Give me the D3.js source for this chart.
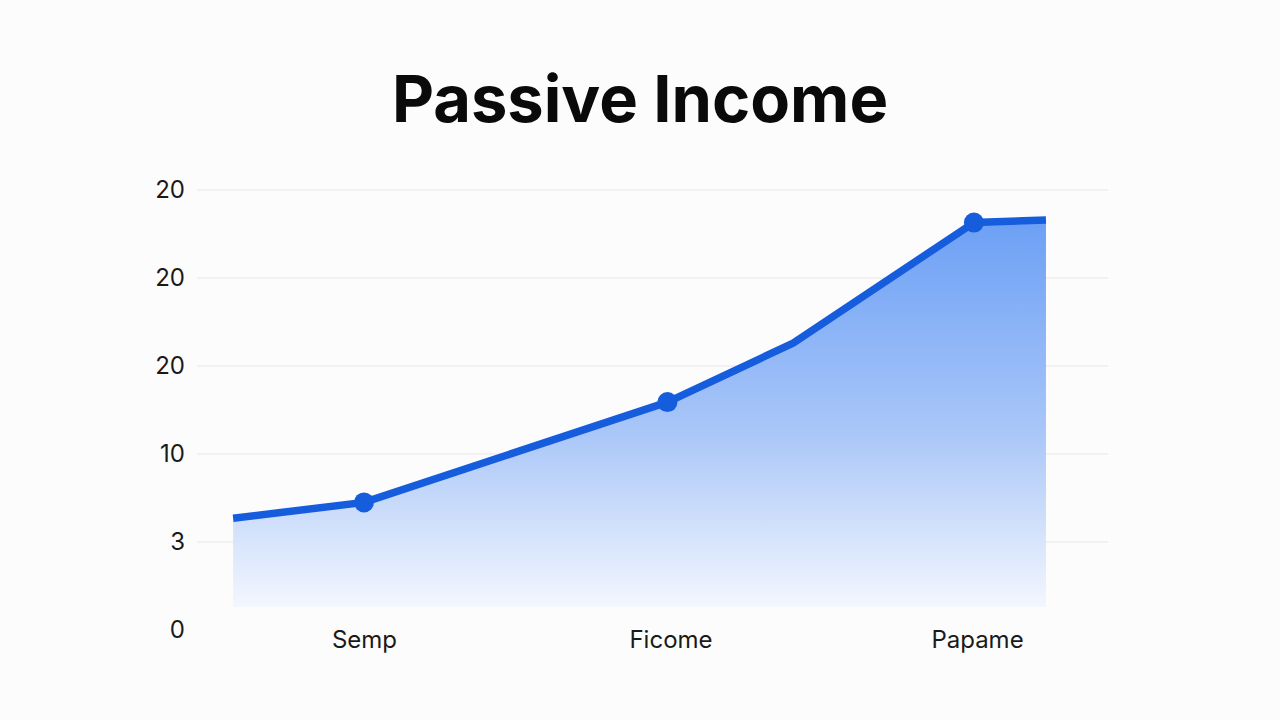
<!DOCTYPE html>
<html>
<head>
<meta charset="utf-8">
<script src="https://cdn.jsdelivr.net/npm/d3@7"></script>
<style>
  html, body { margin: 0; padding: 0; background: #fcfcfc; }
  svg { display: block; }
</style>
</head>
<body>
<svg id="chart" width="1280" height="720"></svg>
<script>
// ---- data ----
const title = "Passive Income";
const categories = ["Semp", "Ficome", "Papame"];
const categoryPos = [1, 2, 3];
const seriesX = [0.573, 1, 1.99, 2.4, 2.99, 3.225];
const seriesY = [12.7, 14.5, 25.9, 32.6, 46.3, 46.6];
const markerIdx = [1, 2, 4];
const yTickValues = [0, 10, 20, 30, 40, 50];
const yTickLabels = ["0", "3", "10", "20", "20", "20"];
const areaBase = 2.6;

// ---- chart ----
const svg = d3.select("#chart");
const W = 1280, H = 720;
svg.append("rect").attr("width", W).attr("height", H).attr("fill", "#fcfcfc");

const x = d3.scaleLinear().domain([1, 3]).range([364, 977]);
const y = d3.scaleLinear().domain([0, 50]).range([630, 190]);

const data = seriesX.map((v, i) => ({ x: v, y: seriesY[i] }));

// gradient
const defs = svg.append("defs");
const grad = defs.append("linearGradient").attr("id", "fillGrad")
  .attr("gradientUnits", "userSpaceOnUse")
  .attr("x1", 0).attr("x2", 0).attr("y1", y(47)).attr("y2", y(areaBase));
grad.append("stop").attr("offset", "0%").attr("stop-color", "#6b9ff5");
grad.append("stop").attr("offset", "55%").attr("stop-color", "#a9c6f8");
grad.append("stop").attr("offset", "100%").attr("stop-color", "#f3f7fe");

// gridlines
svg.append("g").selectAll("line")
  .data(yTickValues.filter(v => v > 0))
  .join("line")
  .attr("x1", 197).attr("x2", 1108)
  .attr("y1", d => y(d)).attr("y2", d => y(d))
  .attr("stroke", "#e6e6e6").attr("stroke-width", 1.2);

// y-axis labels
const yAxis = d3.axisLeft(y).tickValues(yTickValues)
  .tickFormat((d, i) => yTickLabels[i]).tickSize(0).tickPadding(0);
const gy = svg.append("g").attr("transform", "translate(185,0)").call(yAxis);
gy.select(".domain").remove();
gy.selectAll("text")
  .attr("font-family", "Inter, 'Noto Sans', sans-serif")
  .attr("font-size", 24).attr("fill", "#1a1a1a");

// x-axis labels
const xAxis = d3.axisBottom(x).tickValues(categoryPos)
  .tickFormat((d, i) => categories[i]).tickSize(0).tickPadding(0);
const gx = svg.append("g").attr("transform", "translate(0,631)").call(xAxis);
gx.select(".domain").remove();
gx.selectAll("text")
  .attr("font-family", "Inter, 'Noto Sans', sans-serif")
  .attr("font-size", 24).attr("fill", "#1a1a1a");

// area
const area = d3.area().x(d => x(d.x)).y0(y(areaBase)).y1(d => y(d.y));
svg.append("path").datum(data).attr("d", area).attr("fill", "url(#fillGrad)");

// line
const line = d3.line().x(d => x(d.x)).y(d => y(d.y));
svg.append("path").datum(data).attr("d", line)
  .attr("fill", "none").attr("stroke", "#155ddc").attr("stroke-width", 7.5)
  .attr("stroke-linejoin", "round");

// markers
svg.append("g").selectAll("circle")
  .data(markerIdx.map(i => data[i]))
  .join("circle")
  .attr("cx", d => x(d.x)).attr("cy", d => y(d.y)).attr("r", 10)
  .attr("fill", "#155ddc");

// title
svg.append("text").attr("x", 640).attr("y", 122).attr("text-anchor", "middle")
  .attr("font-family", "Inter, 'Noto Sans', sans-serif")
  .attr("font-weight", 700).attr("font-size", 65).attr("fill", "#0a0a0a")
  .text(title);
</script>
</body>
</html>
